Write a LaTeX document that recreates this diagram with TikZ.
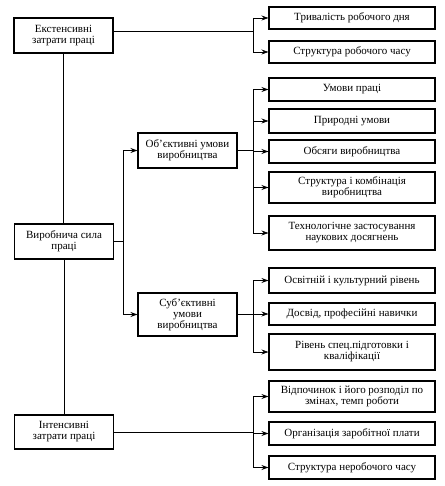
\documentclass[tikz,border=0pt]{standalone}
\usepackage{fontspec}
\setmainfont{Liberation Serif}
\usetikzlibrary{arrows.meta}
\begin{document}
\begin{tikzpicture}[x=1pt, y=-1pt,
	box/.style = {draw, line width=1.1pt, align=center, inner sep=1pt, font=\fontsize{11}{11}\selectfont},
	lbox/.style = {box, minimum width=99pt},
	rbox/.style = {box, minimum width=166pt},
	arr/.style = {-{Stealth[length=7pt, width=5pt]}, line width=0.8pt},
	lin/.style = {line width=0.8pt}]
		\useasboundingbox (0,0) rectangle (444,486);
		% Lohkot vasemmalla
		\node[lbox, minimum height=35pt] (ext) at (63.5,35.5) {Екстенсивні\\затрати праці};
		\node[lbox, minimum height=35pt] (vyr) at (64,241.5) {Виробнича сила\\праці};
		\node[lbox, minimum height=34pt] (int) at (64,432) {Інтенсивні\\затрати праці};
		% Lohkot keskellä
		\node[lbox, minimum height=35pt] (obj) at (187.5,150.5) {Об'єктивні умови\\виробництва};
		\node[lbox, minimum height=43pt] (sub) at (187.5,314.5) {Суб'єктивні\\умови\\виробництва};
		% Lohkot oikealla
		\node[rbox, minimum height=22pt] (tryv) at (352,18) {Тривалість робочого дня};
		\node[rbox, minimum height=22pt] (strr) at (352,52) {Структура робочого часу};
		\node[rbox, minimum height=23pt] (umov) at (352,89.5) {Умови праці};
		\node[rbox, minimum height=24pt] (pryr) at (352,121) {Природні умови};
		\node[rbox, minimum height=23pt] (obsy) at (352,151.5) {Обсяги виробництва};
		\node[rbox, minimum height=31pt] (komb) at (352,187.5) {Структура і комбінація\\виробництва};
		\node[rbox, minimum height=34pt] (tekh) at (352,233) {Технологічне застосування\\наукових досягнень};
		\node[rbox, minimum height=25pt] (osvi) at (352,280.5) {Освітній і культурний рівень};
		\node[rbox, minimum height=22pt] (dosv) at (352,314) {Досвід, професійні навички};
		\node[rbox, minimum height=36pt] (rivn) at (352,352) {Рівень спец.підготовки і\\кваліфікації};
		\node[rbox, minimum height=31pt] (vidp) at (352,396.5) {Відпочинок і його розподіл по\\змінах, темп роботи};
		\node[rbox, minimum height=23pt] (orhz) at (352,433.5) {Організація заробітної плати};
		\node[rbox, minimum height=23pt] (nerb) at (352,467.5) {Структура неробочого часу};
		% Haarakohdat
		\coordinate (hb) at (253,0);
		\coordinate (hm) at (123,0);
		% Janat vasemmalla
		\draw[lin] (ext.south) -- (ext.south |- vyr.north);			% ext-vyr
		\draw[lin] (vyr.south) -- (vyr.south |- int.north);			% vyr-int
		\draw[lin] (vyr.east) -- (vyr.east -| hm);				% vyr-hm
		\draw[lin] (hm |- obj.west) -- (hm |- sub.west);			% hm
		\draw[arr] (hm |- obj.west) -- (obj.west);				% hm-obj
		\draw[arr] (hm |- sub.west) -- (sub.west);				% hm-sub
		% Ekstensiiviset
		\draw[lin] ([yshift=4pt]ext.east) -- ([yshift=4pt]ext.east -| hb);	% ext-hb
		\draw[lin] (hb |- tryv.west) -- (hb |- strr.west);			% hb
		\draw[arr] (hb |- tryv.west) -- (tryv.west);				% tryv
		\draw[arr] (hb |- strr.west) -- (strr.west);				% strr
		% Objektiiviset
		\draw[lin] (obj.east) -- (obj.east -| hb);				% obj-hb
		\draw[lin] (hb |- umov.west) -- (hb |- tekh.west);			% hb
		\draw[arr] (hb |- umov.west) -- (umov.west);				% umov
		\draw[arr] (hb |- pryr.west) -- (pryr.west);				% pryr
		\draw[arr] (hb |- obsy.west) -- (obsy.west);				% obsy
		\draw[arr] (hb |- komb.west) -- (komb.west);				% komb
		\draw[arr] (hb |- tekh.west) -- (tekh.west);				% tekh
		% Subjektiiviset
		\draw[lin] (sub.east) -- (sub.east -| hb);				% sub-hb
		\draw[lin] (hb |- osvi.west) -- (hb |- rivn.west);			% hb
		\draw[arr] (hb |- osvi.west) -- (osvi.west);				% osvi
		\draw[arr] (hb |- dosv.west) -- (dosv.west);				% dosv
		\draw[arr] (hb |- rivn.west) -- (rivn.west);				% rivn
		% Intensiiviset
		\draw[lin] (int.east) -- (int.east -| hb);				% int-hb
		\draw[lin] (hb |- vidp.west) -- (hb |- nerb.west);			% hb
		\draw[arr] (hb |- vidp.west) -- (vidp.west);				% vidp
		\draw[arr] (hb |- orhz.west) -- (orhz.west);				% orhz
		\draw[arr] (hb |- nerb.west) -- (nerb.west);				% nerb
		\end{tikzpicture}
\end{document}
